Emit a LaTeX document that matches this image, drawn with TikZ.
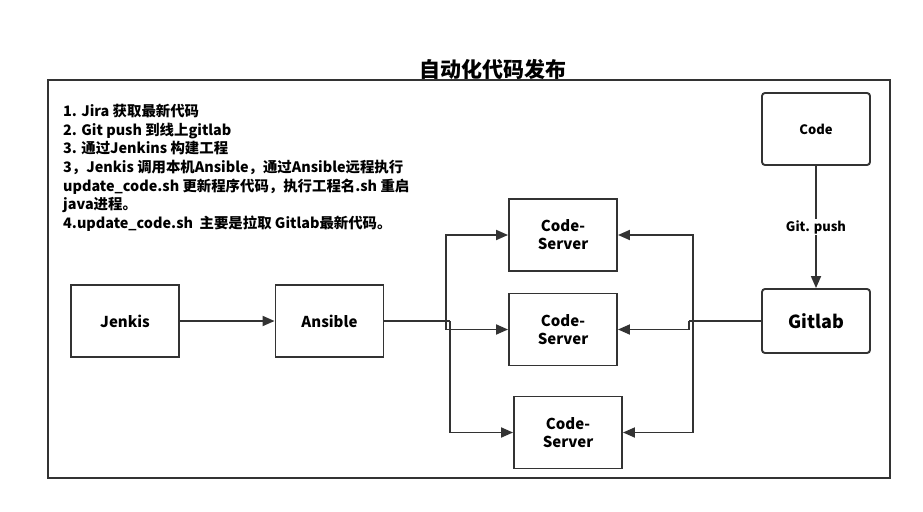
\documentclass[tikz,border=0pt]{standalone}
\usepackage{fontspec}
\setmainfont{Noto Sans CJK SC}
\usetikzlibrary{arrows.meta}
\begin{document}
\begin{tikzpicture}[x=1pt,y=-1pt,
  box/.style={draw=black!80,line width=1.9pt,minimum width=108pt,minimum height=72pt,align=center,font=\bfseries\fontsize{15}{18}\selectfont},
  rbox/.style={box,rounded corners=3pt},
  arr/.style={draw=black!80,line width=1.8pt,-{Triangle[length=12pt,width=10pt]}},
  line/.style={draw=black!80,line width=1.8pt}]
\useasboundingbox (0,0) rectangle (923,511);
% frame and title
\draw[line] (48,80) rectangle (890,478);
\node (title) at (493,69) {\bfseries\fontsize{21}{24}\selectfont 自动化代码发布};
% steps
\node[anchor=north west,inner sep=0pt,align=left,font=\bfseries\fontsize{14.4}{18.6}\selectfont] (steps) at (63,104)
{1. Jira 获取最新代码\\
2. Git push 到线上gitlab\\
3. 通过Jenkins 构建工程\\
3，Jenkis 调用本机Ansible，通过Ansible远程执行\\
update\_code.sh 更新程序代码，执行工程名.sh 重启\\
java进程。\\
4.update\_code.sh\ \ 主要是拉取 Gitlab最新代码。};
% boxes
\node[box] (jenkis) at (125,321) {Jenkis};
\node[box] (ansible) at (329.5,321) {Ansible};
\node[box] (cs1) at (563,235) {Code-\\Server};
\node[box] (cs2) at (563,329.5) {Code-\\Server};
\node[box] (cs3) at (568,432.5) {Code-\\Server};
\node[rbox,font=\bfseries\fontsize{13}{16}\selectfont] (code) at (816,129) {Code};
\node[rbox,minimum height=64pt,font=\bfseries\fontsize{18}{20}\selectfont] (gitlab) at (816,321) {Gitlab};
% connectors
\coordinate (splitA) at (446,321);
\coordinate (splitB) at (450,321);
\coordinate (splitC) at (693,321);
\coordinate (splitD) at (689,321);
\draw[arr] (jenkis) -- (ansible);
\draw[line] (ansible.east) -- (splitB);
\draw[arr] (splitA) |- (cs1);
\draw[arr] (splitA) |- (cs2);
\draw[arr] (splitB) |- (cs3);
\draw[line] (gitlab.west) -- (splitD);
\draw[arr] (splitC) |- (cs1);
\draw[arr] (splitD) |- (cs2);
\draw[arr] (splitC) |- (cs3);
\draw[arr] (code) -- node[fill=white,inner sep=1pt,font=\bfseries\fontsize{13}{16}\selectfont] (push) {Git. push} (gitlab);
\end{tikzpicture}
\end{document}
